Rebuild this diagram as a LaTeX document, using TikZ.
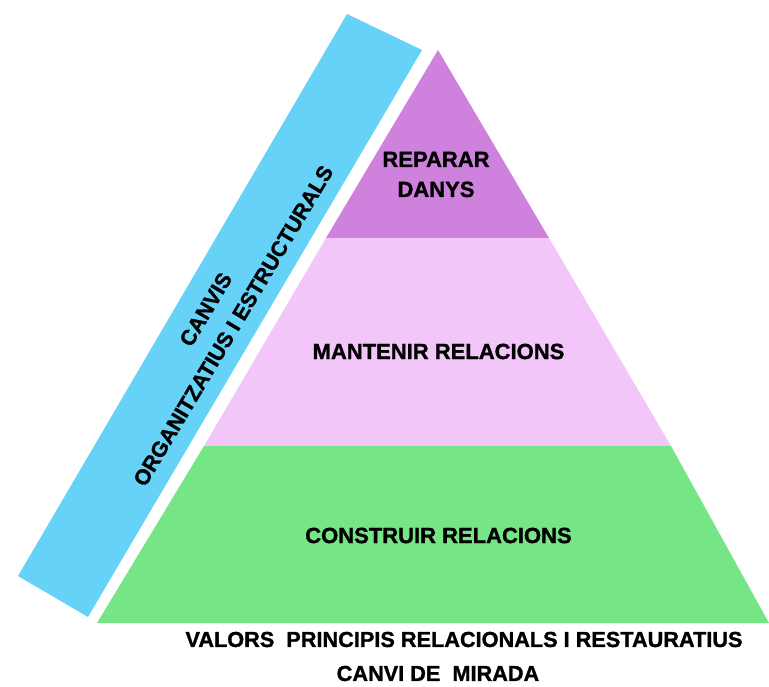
\documentclass[tikz,border=0pt]{standalone}
\usepackage{fontspec}
\setmainfont{Liberation Sans}
\newfontfamily\heavyfont{Liberation Sans Bold}[FakeBold=1.3]
\definecolor{barblue}{HTML}{66D2F8}
\definecolor{tierpurple}{HTML}{CF82DD}
\definecolor{tierpink}{HTML}{F2C6F8}
\definecolor{tiergreen}{HTML}{75E585}
\tikzset{
  lbl/.style={font=\heavyfont\fontsize{22}{30}\selectfont, text=black, inner sep=0pt, align=center},
  foot/.style={font=\heavyfont\fontsize{21.7}{30}\selectfont, text=black, inner sep=0pt, align=center},
  barlbl/.style={font=\heavyfont\fontsize{21.5}{32}\selectfont, text=black, inner sep=0pt, align=center, rotate=59.2},
}
\begin{document}
\begin{tikzpicture}[x=1pt,y=-1pt]
\useasboundingbox (0,0) rectangle (769,686);
% blue bar
\coordinate (b1) at (347,14);
\coordinate (b2) at (422,50);
\coordinate (b3) at (88,617);
\coordinate (b4) at (18,576);
\fill[barblue] (b1) -- (b2) -- (b3) -- (b4) -- cycle;
% pyramid
\coordinate (apex) at (438,50);
\coordinate (l1) at (326,238);
\coordinate (r1) at (549,238);
\coordinate (l2) at (204,446);
\coordinate (r2) at (671,446);
\coordinate (l3) at (97,623);
\coordinate (r3) at (769,623);
\fill[tierpurple] (apex) -- (r1) -- (l1) -- cycle;
\fill[tierpink] (l1) -- (r1) -- (r2) -- (l2) -- cycle;
\fill[tiergreen] (l2) -- (r2) -- (r3) -- (l3) -- cycle;
% labels
\node[lbl] (rep) at (436,174.5) {REPARAR\\DANYS};
\node[lbl] (man) at (438.5,351.5) {MANTENIR RELACIONS};
\node[lbl] (con) at (438.5,535.5) {CONSTRUIR RELACIONS};
\node[foot] (val) at (464,639.5) {VALORS\ \ PRINCIPIS RELACIONALS I RESTAURATIUS};
\node[foot] (mir) at (438,673.5) {CANVI DE\ \ MIRADA};
\node[barlbl] (canvis) at (219.5,317.5) {CANVIS\\ORGANITZATIUS I ESTRUCTURALS};
\end{tikzpicture}
\end{document}
